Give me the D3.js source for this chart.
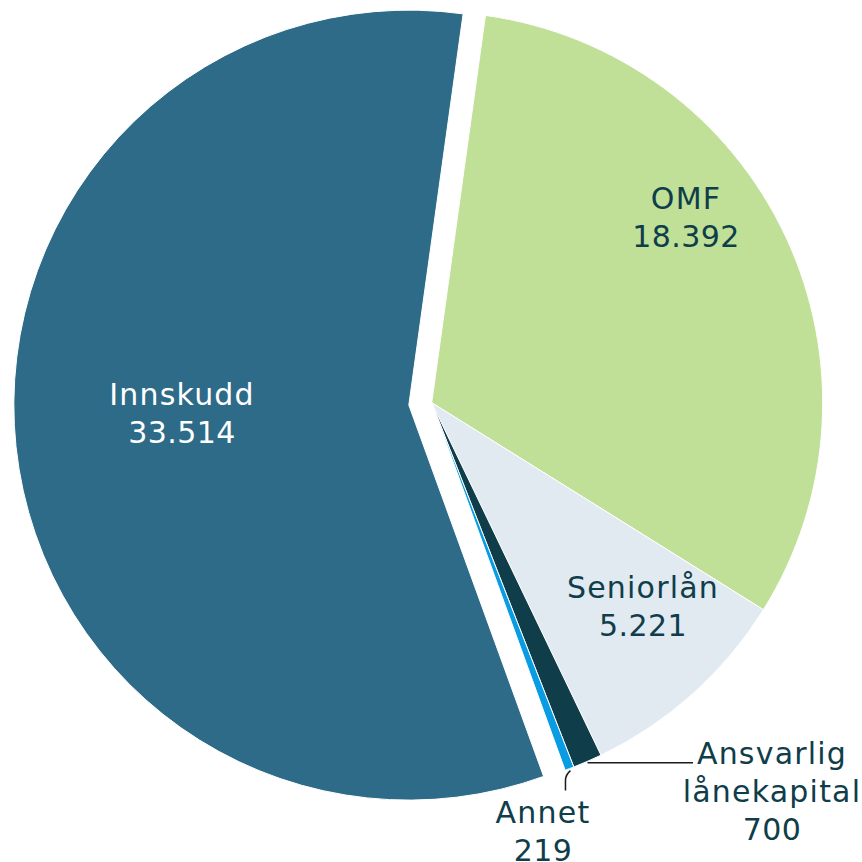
<!DOCTYPE html>
<html>
<head>
<meta charset="utf-8">
<script src="https://cdn.jsdelivr.net/npm/d3@7"></script>
<style>
  html, body { margin: 0; padding: 0; background: #ffffff; }
  svg { display: block; }
  text { font-family: "DejaVu Sans", Verdana, sans-serif; font-size: 30px; }
</style>
</head>
<body>
<svg id="chart" width="862" height="862"></svg>
<script>
// Funding sources (NOK mill.)
const categories = ["OMF", "Seniorlån", "Ansvarlig lånekapital", "Annet", "Innskudd"];
const values = [18392, 5221, 700, 219, 33514];
const valueLabels = ["18.392", "5.221", "700", "219", "33.514"];
const colors = ["#bfe096", "#e1e9f1", "#0f3d4a", "#0a9ce2", "#2e6b88"];

const W = 862, H = 862;
const cx = 431.7, cy = 402.7;
const R = 391;
const explodeIndex = 4;      // Innskudd is pulled out of the pie
const explodeDist = 23;
const startDeg = 7.9;

const svg = d3.select("#chart");
const g = svg.append("g").attr("transform", `translate(${cx},${cy})`);

const pie = d3.pie()
  .sort(null)
  .value(d => d.value)
  .startAngle(startDeg * Math.PI / 180)
  .endAngle((startDeg + 360) * Math.PI / 180);

const data = categories.map((c, i) => ({ name: c, value: values[i], label: valueLabels[i], color: colors[i], i }));
const arcs = pie(data);

const arc = d3.arc().innerRadius(0).outerRadius(R);
const arcBig = d3.arc().innerRadius(0).outerRadius(R + 4);

function offsetOf(d) {
  if (d.data.i !== explodeIndex) return [0, 0];
  const mid = (d.startAngle + d.endAngle) / 2;
  return [Math.sin(mid) * explodeDist, -Math.cos(mid) * explodeDist];
}

g.selectAll("path.slice")
  .data(arcs)
  .join("path")
  .attr("class", "slice")
  .attr("d", d => d.data.i === explodeIndex ? arcBig(d) : arc(d))
  .attr("transform", d => { const o = offsetOf(d); return `translate(${o[0]},${o[1]})`; })
  .attr("fill", d => d.data.color)
  .attr("stroke", "#ffffff")
  .attr("stroke-width", 1);

// point on the rim at the middle of a slice
function rimPoint(d) {
  const mid = (d.startAngle + d.endAngle) / 2;
  return [Math.sin(mid) * R, -Math.cos(mid) * R];
}

// leader lines for the thin slices
const ansv = arcs[2], annet = arcs[3];
const pA = rimPoint(ansv);
g.append("path")
  .attr("d", `M${pA[0]},${pA[1] + 1.5}L${693 - cx},${pA[1] + 1.5}`)
  .attr("fill", "none").attr("stroke", "#1a1a1a").attr("stroke-width", 1.5);

const pN = rimPoint(annet);
g.append("path")
  .attr("d", `M${pN[0] + 1},${pN[1] + 2} Q${pN[0] - 4},${pN[1] + 6} ${pN[0] - 4},${pN[1] + 12} L${pN[0] - 4},${pN[1] + 22}`)
  .attr("fill", "none").attr("stroke", "#1a1a1a").attr("stroke-width", 1.5);

// label placement (absolute page coordinates of each text block, first baseline)
const labelLayout = [
  { x: 686, y: 209, lines: ["OMF"], fill: "#0f3d4a" },
  { x: 643, y: 598, lines: ["Seniorlån"], fill: "#0f3d4a" },
  { x: 772, y: 764, lines: ["Ansvarlig", "lånekapital"], fill: "#0f3d4a" },
  { x: 543, y: 823, lines: ["Annet"], fill: "#0f3d4a" },
  { x: 182, y: 405, lines: ["Innskudd"], fill: "#ffffff" }
];
const lineH = 38;

const lg = svg.append("g");
arcs.forEach((d, k) => {
  const L = labelLayout[k];
  const t = lg.append("text")
    .attr("x", L.x).attr("y", L.y)
    .attr("text-anchor", "middle")
    .attr("fill", L.fill);
  L.lines.forEach((s, j) => {
    t.append("tspan").attr("x", L.x).attr("y", L.y + j * lineH)
      .attr("letter-spacing", "1.2px").text(s);
  });
  t.append("tspan").attr("x", L.x).attr("y", L.y + L.lines.length * lineH)
    .attr("letter-spacing", "0.4px").text(d.data.label);
});
</script>
</body>
</html>
